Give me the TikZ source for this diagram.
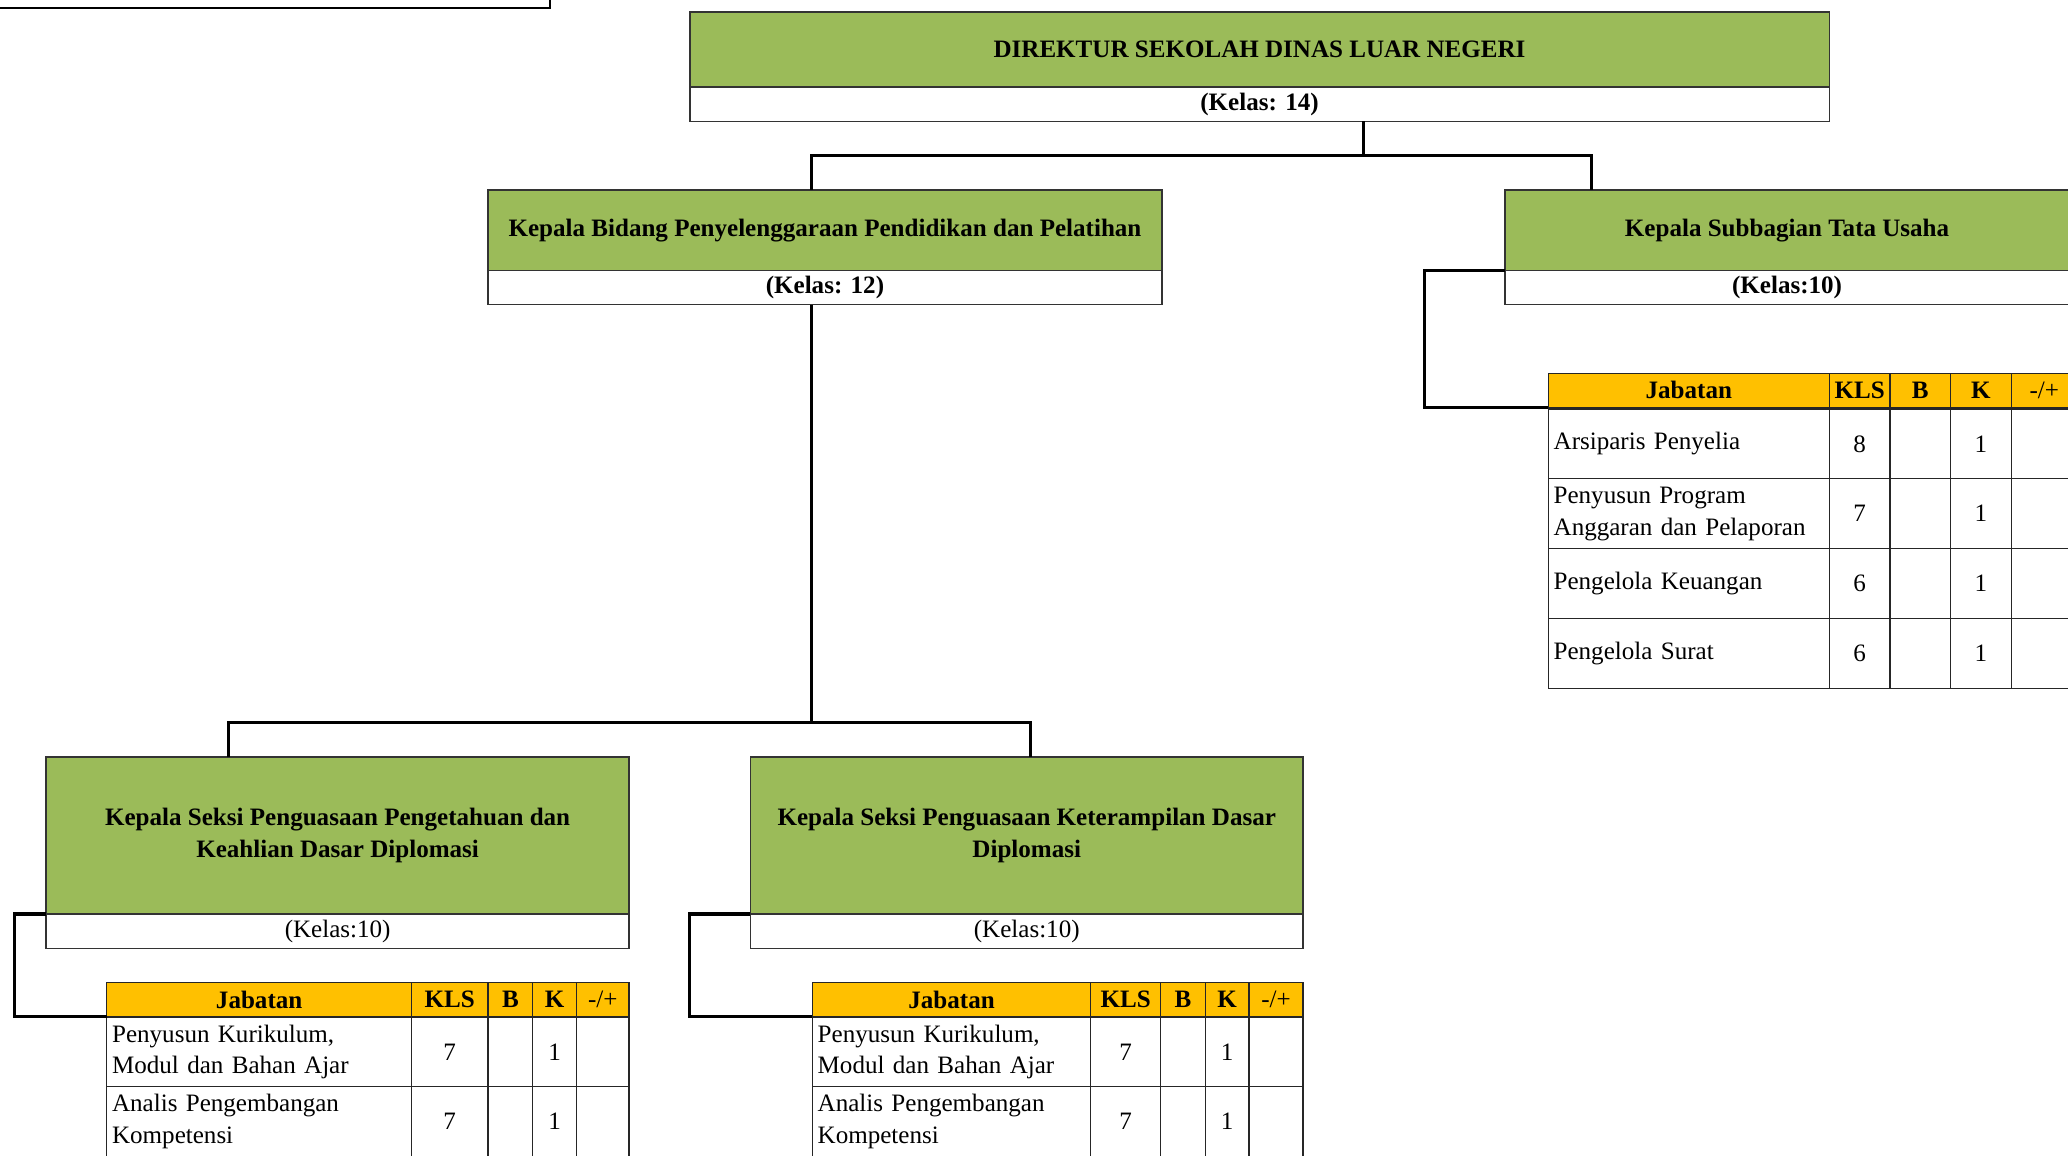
\documentclass[tikz,border=0pt]{standalone}
\usepackage{fontspec}
\setmainfont{Liberation Serif}
\usetikzlibrary{positioning}
\definecolor{olivegreen}{RGB}{155, 187, 89}
\definecolor{tableorange}{RGB}{255, 192, 0}
\newcommand\orgfont{\fontsize{19}{24}\selectfont}

\tikzset{
    titlebox/.style={draw=black!80, fill=olivegreen, line width=1.1pt, inner sep=4pt, outer sep=0pt,
        anchor=north west, align=center, font=\orgfont\bfseries},
    kelasbox/.style={draw=black!80, fill=white, line width=1.1pt, inner sep=1pt, outer sep=0pt,
        anchor=north, minimum height=26, font=\orgfont},
    headcell/.style={draw=black!85, fill=tableorange, line width=1pt, inner sep=1pt, outer sep=0pt,
        anchor=north west, minimum height=26, font=\orgfont\bfseries},
    cell/.style={draw=black!85, line width=1pt, inner sep=3pt, outer sep=0pt,
        anchor=north west, minimum height=53, font=\orgfont},
    orgline/.style={line width=2.3pt}
}

\begin{document}
\begin{tikzpicture}[x=1pt, y=-1pt]
    \useasboundingbox (0,0) rectangle (1568,876);
    \clip (0,0) rectangle (1568,876);

    % Box above, cut off
    \draw[line width=1.4pt, fill=white] (-10,-40) rectangle (417,6);

    % Director
    \node[titlebox, minimum width=864, minimum height=57] (dir) at (523,9) {DIREKTUR SEKOLAH DINAS LUAR NEGERI};
    \node[kelasbox, minimum width=864, font=\orgfont\bfseries] (dirk) at (dir.south) {(Kelas: 14)};

    % Second level
    \node[titlebox, minimum width=511, minimum height=61] (kabid) at (370,144) {Kepala Bidang Penyelenggaraan Pendidikan dan Pelatihan};
    \node[kelasbox, minimum width=511, font=\orgfont\bfseries] (kabidk) at (kabid.south) {(Kelas: 12)};
    \node[titlebox, minimum width=428, minimum height=61] (kasub) at (1141,144) {Kepala Subbagian Tata Usaha};
    \node[kelasbox, minimum width=428, font=\orgfont\bfseries] (kasubk) at (kasub.south) {(Kelas:10)};

    % Third level
    \node[titlebox, minimum width=442, minimum height=119] (k1) at (35,574) {Kepala Seksi Penguasaan Pengetahuan dan\\Keahlian Dasar Diplomasi};
    \node[kelasbox, minimum width=442] (k1k) at (k1.south) {(Kelas:10)};
    \node[titlebox, minimum width=419, minimum height=119] (k2) at (569,574) {Kepala Seksi Penguasaan Keterampilan Dasar\\Diplomasi};
    \node[kelasbox, minimum width=419] (k2k) at (k2.south) {(Kelas:10)};

    % Connectors
    \coordinate (bar1) at (1034,118);
    \coordinate (bar2) at (615,548);
    \draw[orgline] ([xshift=511]dirk.south west) -- (bar1);
    \draw[orgline] ([xshift=245]kabid.north west) |- (bar1) -| ([xshift=66]kasub.north west);
    \draw[orgline] ([xshift=245]kabidk.south west) -- (bar2);
    \draw[orgline] ([xshift=138]k1.north west) |- (bar2) -| ([xshift=212]k2.north west);

    % Table Tata Usaha
    \foreach \x/\w/\t [count=\i] in {1174/213/Jabatan, 1387/46/KLS, 1433/46/B, 1479/46/K, 1525/50/{\mdseries -/+}}
        \node[headcell, minimum width=\w] (t3h\i) at (\x,283) {\t};
    \foreach \y/\jab/\kls [count=\r] in {310/Arsiparis Penyelia/8, 363/{Penyusun Program\\Anggaran dan Pelaporan}/7,
            416/Pengelola Keuangan/6, 469/Pengelola Surat/6} {
        \node[cell, minimum width=213, text width=205, align=left] (t3a\r) at (1174,\y) {\jab};
        \node[cell, minimum width=46] (t3b\r) at (1387,\y) {\kls};
        \node[cell, minimum width=46] (t3c\r) at (1433,\y) {};
        \node[cell, minimum width=46] (t3d\r) at (1479,\y) {1};
        \node[cell, minimum width=50] (t3e\r) at (1525,\y) {};
    }

    % Table seksi 1
    \foreach \x/\w/\t [count=\i] in {81/231/Jabatan, 312/58/KLS, 370/34/B, 404/33/K, 437/40/{\mdseries -/+}}
        \node[headcell, minimum width=\w] (t1h\i) at (\x,745) {\t};
    \foreach \y/\jab/\kls [count=\r] in {771/{Penyusun Kurikulum,\\Modul dan Bahan Ajar}/7, 824/{Analis Pengembangan\\Kompetensi}/7} {
        \node[cell, minimum width=231, text width=223, align=left] (t1a\r) at (81,\y) {\jab};
        \node[cell, minimum width=58] (t1b\r) at (312,\y) {\kls};
        \node[cell, minimum width=34] (t1c\r) at (370,\y) {};
        \node[cell, minimum width=33] (t1d\r) at (404,\y) {1};
        \node[cell, minimum width=40] (t1e\r) at (437,\y) {};
    }

    % Table seksi 2
    \foreach \x/\w/\t [count=\i] in {616/211/Jabatan, 827/53/KLS, 880/34/B, 914/33/K, 947/41/{\mdseries -/+}}
        \node[headcell, minimum width=\w] (t2h\i) at (\x,745) {\t};
    \foreach \y/\jab/\kls [count=\r] in {771/{Penyusun Kurikulum,\\Modul dan Bahan Ajar}/7, 824/{Analis Pengembangan\\Kompetensi}/7} {
        \node[cell, minimum width=211, text width=203, align=left] (t2a\r) at (616,\y) {\jab};
        \node[cell, minimum width=53] (t2b\r) at (827,\y) {\kls};
        \node[cell, minimum width=34] (t2c\r) at (880,\y) {};
        \node[cell, minimum width=33] (t2d\r) at (914,\y) {1};
        \node[cell, minimum width=41] (t2e\r) at (947,\y) {};
    }

    % Side connectors to tables
    \draw[orgline] (kasub.south west) -- ++(-61,0) |- (t3h1.south west);
    \draw[orgline] (k1.south west) -- ++(-24,0) |- (t1h1.south west);
    \draw[orgline] (k2.south west) -- ++(-46,0) |- (t2h1.south west);
\end{tikzpicture}
\end{document}
